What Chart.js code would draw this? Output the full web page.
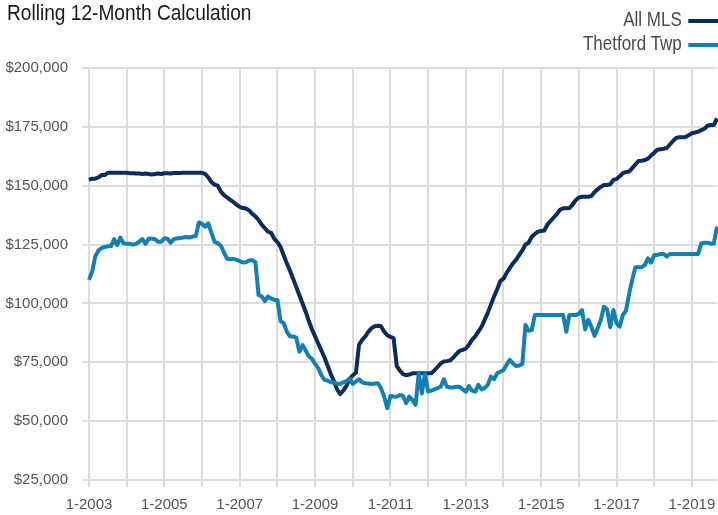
<!DOCTYPE html>
<html lang="en">
<head>
    <meta charset="UTF-8">
    <title>Rolling 12-Month Calculation</title>
    <script src="https://cdn.jsdelivr.net/npm/chart.js"></script>
    <style>
        body {
            margin: 0;
            background: #ffffff;
            font-family: 'Liberation Sans', Arial, sans-serif;
        }
        .wrap {
            position: relative;
            width: 718px;
            height: 515px;
        }
        .title {
            position: absolute;
            left: 7px;
            top: 0;
            font-size: 22.5px;
            line-height: 26px;
            color: #1a1a1a;
            white-space: nowrap;
            transform: scaleX(0.85);
            transform-origin: left center;
        }
        .legend {
            position: absolute;
            right: 0;
            top: 7px;
            text-align: right;
            font-size: 20px;
            line-height: 24px;
            color: #4a4a4a;
            white-space: nowrap;
            transform: scaleX(0.85);
            transform-origin: right center;
        }
        .legend .swatch {
            display: inline-block;
            width: 35px;
            height: 4px;
            margin-left: 8px;
            vertical-align: middle;
        }
        canvas {
            position: absolute;
            left: 0;
            top: 0;
        }
    </style>
</head>
<body>
<div class="wrap">
    <canvas id="rollingChart" width="718" height="515"></canvas>
    <div class="title">Rolling 12-Month Calculation</div>
    <div class="legend">
        <div>All MLS<span class="swatch" style="background:#0b2d5e"></span></div>
        <div>Thetford Twp<span class="swatch" style="background:#1380b5"></span></div>
    </div>
</div>

<script>
    // monthly series, 1-2003 .. 9-2019
    const startYear = 2003;
    const endYear = 2019;
    const endMonth = 9;

    const allMls = [
        152500, 153000, 153000, 153500, 154500, 154500, 155500, 155500, 155500, 155500, 155500, 155500,
        155500, 155300, 155300, 155200, 155200, 155000, 155200, 155000, 154800, 155000, 155200, 155000,
        155300, 155300, 155200, 155400, 155400, 155400, 155500, 155500, 155500, 155500, 155500, 155500,
        155500, 155000, 153500, 151500, 150500, 150000, 147500, 146000, 145000, 144000, 143000, 142000,
        141000, 140500, 140300, 139500, 138000, 137000, 135500, 133500, 132000, 130500, 130000, 127500,
        126000, 124000, 120500, 117000, 114000, 110500, 107000, 103500, 100000, 96500, 92500, 89000,
        86000, 83000, 80000, 77000, 73500, 70000, 67000, 63500, 61500, 63000, 65000, 68000,
        69500, 70500, 82500, 84500, 86000, 88000, 89500, 90300, 90500, 90300, 88000, 86500,
        85800, 85300, 73500, 71500, 70000, 69500, 69800, 70300, 70300, 70300, 70300, 70300,
        70300, 70300, 71500, 73000, 74500, 75300, 75500, 75800, 77000, 78500, 79800, 80300,
        80800, 82500, 84500, 86000, 88000, 90000, 93000, 96000, 99500, 103000, 106000, 109500,
        110500, 113000, 115000, 117000, 118500, 120500, 122500, 125000, 125800, 128300, 129500, 130500,
        130800, 131000, 133500, 135000, 136500, 138000, 139800, 140400, 140400, 140500, 142000, 143800,
        145000, 145300, 145300, 145300, 145600, 147300, 148500, 149500, 150300, 150300, 150600, 152500,
        152800, 154000, 155300, 155800, 156000, 157500, 159000, 160500, 160600, 160900, 161500, 162800,
        164000, 165300, 165500, 165700, 166000, 167500, 169000, 170300, 170600, 170600, 170600, 171500,
        172300, 172600, 173000, 173600, 174200, 175500, 175800, 175800, 178600
    ];

    const thetford = [
        110000, 113500, 120000, 122500, 123500, 124000, 124300, 124300, 127300, 124800, 128000, 125500,
        125300, 125300, 125000, 125300, 126200, 127300, 125300, 127500, 127500, 127300, 126200, 126200,
        127700, 127500, 125800, 127300, 127600, 127800, 128000, 128200, 128000, 128400, 128600, 134400,
        133800, 132600, 134000, 130000, 126200, 125500, 124500, 121500, 119000, 118800, 118900, 118500,
        118000, 117400, 117500, 118200, 118400, 117500, 103600, 103000, 101000, 103000, 102000, 101500,
        101500, 92500, 91600, 88000, 86000, 86000, 85500, 79500, 82300, 80000, 77500, 76500,
        74300, 72500, 69500, 67500, 67200, 66500, 66300, 66000, 65800, 66500, 67000, 68200,
        65800, 66800, 67800, 66500, 66100, 66000, 65800, 66000, 66100, 64000, 60400, 55500,
        60700, 60500, 60400, 61100, 60700, 57600, 60400, 59000, 56900, 70300, 61800, 70300,
        62500, 63000, 63500, 64000, 64600, 67800, 64600, 64300, 64300, 64600, 64600, 63500,
        62500, 64900, 63000, 62500, 65400, 63500, 64000, 65400, 68900, 67800, 70300, 71000,
        71700, 74000, 76000, 74500, 73400, 73600, 74300, 90800, 88400, 88700, 95100, 95100,
        95100, 95100, 95100, 95100, 95100, 95100, 95100, 95100, 88000, 95100, 95100, 95100,
        95500, 97200, 89000, 93000, 90100, 86200, 89500, 93000, 98600, 97500, 89900, 97200,
        91600, 90100, 95100, 96900, 104000, 110000, 115400, 115400, 115400, 116300, 119200, 117300,
        120600, 120600, 121000, 121000, 119900, 121000, 121000, 121000, 121000, 121000, 121000, 121000,
        121000, 121000, 121000, 125500, 125800, 125800, 125400, 125500, 132600
    ];

    const tickLabels = ['1-2003', '1-2005', '1-2007', '1-2009', '1-2011', '1-2013', '1-2015', '1-2017', '1-2019'];
    const yMin = 25000;
    const yMax = 200000;
    const yStep = 25000;

    // month labels like "1-2003"
    const months = [];
    for (let y = startYear; y <= endYear; y++) {
        for (let m = 1; m <= 12; m++) {
            if (y === endYear && m > endMonth) break;
            months.push(m + '-' + y);
        }
    }

    const gridColor = '#dcdcdc';
    const fontFamily = "'Liberation Sans', Arial, sans-serif";

    const ctx = document.getElementById('rollingChart').getContext('2d');
    const rollingChart = new Chart(ctx, {
        type: 'line',
        data: {
            labels: months,
            datasets: [
                {
                    label: 'Thetford Twp',
                    data: thetford,
                    borderColor: '#1380b5',
                    borderWidth: 4,
                    pointRadius: 0,
                    tension: 0,
                    borderJoinStyle: 'round'
                },
                {
                    label: 'All MLS',
                    data: allMls,
                    borderColor: '#0b2d5e',
                    borderWidth: 4,
                    pointRadius: 0,
                    tension: 0,
                    borderJoinStyle: 'round'
                }
            ]
        },
        options: {
            responsive: false,
            animation: false,
            devicePixelRatio: 1,
            layout: { padding: { top: 68, right: 1, left: 0, bottom: 0 } },
            plugins: {
                legend: { display: false },
                tooltip: { enabled: false }
            },
            scales: {
                x: {
                    border: { display: false },
                    grid: {
                        color: (c) => (months[c.index] || '').startsWith('1-') ? gridColor : 'rgba(0,0,0,0)',
                        lineWidth: 2,
                        tickLength: 7
                    },
                    ticks: {
                        autoSkip: false,
                        maxRotation: 0,
                        padding: 9,
                        color: '#555555',
                        font: { family: fontFamily, size: 15 },
                        callback: function (value, index) {
                            const lbl = months[index];
                            return tickLabels.includes(lbl) ? lbl : '';
                        }
                    },
                    afterFit: (scale) => {
                        scale.height = 35;
                        // labels stay inside the y-axis gutter, so no extra side padding
                        scale.paddingLeft = 0;
                        scale.paddingRight = 0;
                    }
                },
                y: {
                    min: yMin,
                    max: yMax,
                    border: { display: false },
                    grid: {
                        color: gridColor,
                        lineWidth: 2,
                        tickLength: 7
                    },
                    ticks: {
                        stepSize: yStep,
                        padding: 14,
                        color: '#555555',
                        font: { family: fontFamily, size: 15 },
                        callback: (v) => '$' + v.toLocaleString('en-US')
                    },
                    afterFit: (scale) => { scale.width = 89; }
                }
            }
        }
    });
</script>
</body>
</html>
